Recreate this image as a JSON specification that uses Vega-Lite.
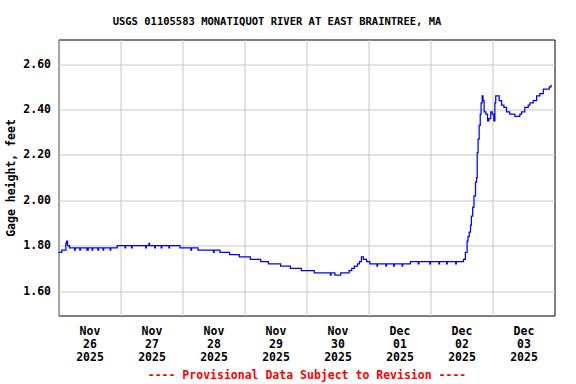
{
  "$schema": "https://vega.github.io/schema/vega-lite/v6.json",
  "width": 496,
  "height": 276,
  "autosize": "none",
  "padding": {"left": 58.5, "top": 39.5, "right": 21.5, "bottom": 68.5},
  "background": "white",
  "config": {
    "view": {"stroke": "black", "strokeWidth": 1},
    "font": "DejaVu Sans Mono"
  },
  "title": {
    "text": "USGS 01105583 MONATIQUOT RIVER AT EAST BRAINTREE, MA",
    "font": "DejaVu Sans Mono",
    "fontSize": 10.5,
    "fontWeight": "bold",
    "color": "black",
    "anchor": "middle",
    "frame": "group",
    "dx": -29.5,
    "offset": 12
  },
  "data": {
    "values": [
      {"t": "2025-11-26T00:00", "v": 1.77},
      {"t": "2025-11-26T00:50", "v": 1.77},
      {"t": "2025-11-26T01:15", "v": 1.78},
      {"t": "2025-11-26T02:30", "v": 1.78},
      {"t": "2025-11-26T02:50", "v": 1.81},
      {"t": "2025-11-26T03:10", "v": 1.82},
      {"t": "2025-11-26T03:30", "v": 1.80},
      {"t": "2025-11-26T04:15", "v": 1.79},
      {"t": "2025-11-26T06:00", "v": 1.79},
      {"t": "2025-11-26T06:15", "v": 1.78},
      {"t": "2025-11-26T06:30", "v": 1.79},
      {"t": "2025-11-26T08:00", "v": 1.79},
      {"t": "2025-11-26T08:15", "v": 1.78},
      {"t": "2025-11-26T08:30", "v": 1.79},
      {"t": "2025-11-26T10:45", "v": 1.79},
      {"t": "2025-11-26T11:00", "v": 1.78},
      {"t": "2025-11-26T11:30", "v": 1.79},
      {"t": "2025-11-26T12:45", "v": 1.79},
      {"t": "2025-11-26T13:00", "v": 1.78},
      {"t": "2025-11-26T13:15", "v": 1.79},
      {"t": "2025-11-26T15:00", "v": 1.79},
      {"t": "2025-11-26T15:15", "v": 1.78},
      {"t": "2025-11-26T15:30", "v": 1.79},
      {"t": "2025-11-26T17:00", "v": 1.79},
      {"t": "2025-11-26T17:15", "v": 1.78},
      {"t": "2025-11-26T17:30", "v": 1.79},
      {"t": "2025-11-26T19:45", "v": 1.79},
      {"t": "2025-11-26T20:00", "v": 1.78},
      {"t": "2025-11-26T20:15", "v": 1.79},
      {"t": "2025-11-26T22:30", "v": 1.79},
      {"t": "2025-11-26T22:45", "v": 1.80},
      {"t": "2025-11-27T01:30", "v": 1.80},
      {"t": "2025-11-27T01:45", "v": 1.79},
      {"t": "2025-11-27T02:00", "v": 1.80},
      {"t": "2025-11-27T04:00", "v": 1.80},
      {"t": "2025-11-27T04:15", "v": 1.79},
      {"t": "2025-11-27T04:30", "v": 1.80},
      {"t": "2025-11-27T09:30", "v": 1.80},
      {"t": "2025-11-27T09:45", "v": 1.79},
      {"t": "2025-11-27T10:00", "v": 1.80},
      {"t": "2025-11-27T11:00", "v": 1.81},
      {"t": "2025-11-27T11:15", "v": 1.80},
      {"t": "2025-11-27T13:00", "v": 1.80},
      {"t": "2025-11-27T13:15", "v": 1.79},
      {"t": "2025-11-27T13:30", "v": 1.80},
      {"t": "2025-11-27T15:30", "v": 1.80},
      {"t": "2025-11-27T15:45", "v": 1.79},
      {"t": "2025-11-27T16:00", "v": 1.80},
      {"t": "2025-11-27T18:30", "v": 1.80},
      {"t": "2025-11-27T18:45", "v": 1.79},
      {"t": "2025-11-27T19:00", "v": 1.80},
      {"t": "2025-11-27T22:45", "v": 1.80},
      {"t": "2025-11-27T23:00", "v": 1.79},
      {"t": "2025-11-28T03:00", "v": 1.79},
      {"t": "2025-11-28T03:15", "v": 1.78},
      {"t": "2025-11-28T03:30", "v": 1.79},
      {"t": "2025-11-28T05:45", "v": 1.79},
      {"t": "2025-11-28T06:00", "v": 1.78},
      {"t": "2025-11-28T11:45", "v": 1.78},
      {"t": "2025-11-28T12:00", "v": 1.77},
      {"t": "2025-11-28T12:15", "v": 1.78},
      {"t": "2025-11-28T14:30", "v": 1.77},
      {"t": "2025-11-28T18:15", "v": 1.76},
      {"t": "2025-11-28T22:00", "v": 1.75},
      {"t": "2025-11-29T02:00", "v": 1.75},
      {"t": "2025-11-29T02:15", "v": 1.74},
      {"t": "2025-11-29T06:00", "v": 1.74},
      {"t": "2025-11-29T06:15", "v": 1.73},
      {"t": "2025-11-29T09:00", "v": 1.73},
      {"t": "2025-11-29T09:15", "v": 1.72},
      {"t": "2025-11-29T13:45", "v": 1.72},
      {"t": "2025-11-29T14:00", "v": 1.71},
      {"t": "2025-11-29T17:30", "v": 1.71},
      {"t": "2025-11-29T17:45", "v": 1.70},
      {"t": "2025-11-29T21:30", "v": 1.70},
      {"t": "2025-11-29T22:00", "v": 1.69},
      {"t": "2025-11-30T01:15", "v": 1.69},
      {"t": "2025-11-30T03:00", "v": 1.68},
      {"t": "2025-11-30T09:00", "v": 1.68},
      {"t": "2025-11-30T09:15", "v": 1.67},
      {"t": "2025-11-30T09:30", "v": 1.68},
      {"t": "2025-11-30T11:00", "v": 1.67},
      {"t": "2025-11-30T13:00", "v": 1.67},
      {"t": "2025-11-30T13:15", "v": 1.68},
      {"t": "2025-11-30T15:30", "v": 1.68},
      {"t": "2025-11-30T16:30", "v": 1.69},
      {"t": "2025-11-30T17:30", "v": 1.70},
      {"t": "2025-11-30T18:30", "v": 1.71},
      {"t": "2025-11-30T19:45", "v": 1.72},
      {"t": "2025-11-30T20:30", "v": 1.73},
      {"t": "2025-11-30T21:15", "v": 1.75},
      {"t": "2025-11-30T22:00", "v": 1.74},
      {"t": "2025-11-30T23:15", "v": 1.73},
      {"t": "2025-12-01T00:30", "v": 1.72},
      {"t": "2025-12-01T03:00", "v": 1.72},
      {"t": "2025-12-01T03:15", "v": 1.71},
      {"t": "2025-12-01T03:30", "v": 1.72},
      {"t": "2025-12-01T06:30", "v": 1.72},
      {"t": "2025-12-01T06:45", "v": 1.71},
      {"t": "2025-12-01T07:00", "v": 1.72},
      {"t": "2025-12-01T09:30", "v": 1.72},
      {"t": "2025-12-01T09:45", "v": 1.71},
      {"t": "2025-12-01T10:00", "v": 1.72},
      {"t": "2025-12-01T12:45", "v": 1.72},
      {"t": "2025-12-01T13:00", "v": 1.71},
      {"t": "2025-12-01T13:15", "v": 1.72},
      {"t": "2025-12-01T16:00", "v": 1.72},
      {"t": "2025-12-01T16:15", "v": 1.73},
      {"t": "2025-12-01T19:00", "v": 1.73},
      {"t": "2025-12-01T19:15", "v": 1.72},
      {"t": "2025-12-01T19:30", "v": 1.73},
      {"t": "2025-12-01T23:30", "v": 1.73},
      {"t": "2025-12-01T23:45", "v": 1.72},
      {"t": "2025-12-02T00:00", "v": 1.73},
      {"t": "2025-12-02T03:00", "v": 1.73},
      {"t": "2025-12-02T03:15", "v": 1.72},
      {"t": "2025-12-02T03:30", "v": 1.73},
      {"t": "2025-12-02T06:00", "v": 1.73},
      {"t": "2025-12-02T06:15", "v": 1.72},
      {"t": "2025-12-02T06:30", "v": 1.73},
      {"t": "2025-12-02T09:30", "v": 1.73},
      {"t": "2025-12-02T09:45", "v": 1.72},
      {"t": "2025-12-02T10:00", "v": 1.73},
      {"t": "2025-12-02T12:15", "v": 1.73},
      {"t": "2025-12-02T12:45", "v": 1.74},
      {"t": "2025-12-02T13:30", "v": 1.77},
      {"t": "2025-12-02T14:10", "v": 1.82},
      {"t": "2025-12-02T14:30", "v": 1.84},
      {"t": "2025-12-02T15:00", "v": 1.86},
      {"t": "2025-12-02T15:30", "v": 1.89},
      {"t": "2025-12-02T15:50", "v": 1.93},
      {"t": "2025-12-02T16:20", "v": 1.97},
      {"t": "2025-12-02T16:50", "v": 2.02},
      {"t": "2025-12-02T17:25", "v": 2.08},
      {"t": "2025-12-02T17:50", "v": 2.10},
      {"t": "2025-12-02T18:05", "v": 2.21},
      {"t": "2025-12-02T18:25", "v": 2.27},
      {"t": "2025-12-02T18:50", "v": 2.33},
      {"t": "2025-12-02T19:15", "v": 2.38},
      {"t": "2025-12-02T19:35", "v": 2.43},
      {"t": "2025-12-02T20:00", "v": 2.46},
      {"t": "2025-12-02T20:20", "v": 2.44},
      {"t": "2025-12-02T20:45", "v": 2.39},
      {"t": "2025-12-02T21:25", "v": 2.38},
      {"t": "2025-12-02T22:05", "v": 2.35},
      {"t": "2025-12-02T22:35", "v": 2.36},
      {"t": "2025-12-02T23:20", "v": 2.39},
      {"t": "2025-12-02T23:55", "v": 2.38},
      {"t": "2025-12-03T00:30", "v": 2.35},
      {"t": "2025-12-03T00:55", "v": 2.43},
      {"t": "2025-12-03T01:15", "v": 2.46},
      {"t": "2025-12-03T02:05", "v": 2.46},
      {"t": "2025-12-03T02:35", "v": 2.44},
      {"t": "2025-12-03T03:30", "v": 2.42},
      {"t": "2025-12-03T04:25", "v": 2.41},
      {"t": "2025-12-03T05:25", "v": 2.39},
      {"t": "2025-12-03T06:40", "v": 2.38},
      {"t": "2025-12-03T08:40", "v": 2.37},
      {"t": "2025-12-03T10:35", "v": 2.38},
      {"t": "2025-12-03T11:15", "v": 2.39},
      {"t": "2025-12-03T12:30", "v": 2.41},
      {"t": "2025-12-03T13:50", "v": 2.42},
      {"t": "2025-12-03T14:30", "v": 2.43},
      {"t": "2025-12-03T15:45", "v": 2.44},
      {"t": "2025-12-03T17:05", "v": 2.46},
      {"t": "2025-12-03T18:20", "v": 2.47},
      {"t": "2025-12-03T19:40", "v": 2.49},
      {"t": "2025-12-03T21:00", "v": 2.49},
      {"t": "2025-12-03T22:00", "v": 2.50},
      {"t": "2025-12-03T22:40", "v": 2.51}
    ]
  },
  "mark": {"type": "line", "color": "#0000ff", "strokeWidth": 1.25, "interpolate": "step-after"},
  "encoding": {
    "x": {
      "field": "t",
      "type": "temporal",
      "scale": {
        "domain": [
          {"year": 2025, "month": 11, "date": 26},
          {"year": 2025, "month": 12, "date": 4}
        ],
        "nice": false
      },
      "axis": {
        "values": [
          {"year": 2025, "month": 11, "date": 26},
          {"year": 2025, "month": 11, "date": 27},
          {"year": 2025, "month": 11, "date": 28},
          {"year": 2025, "month": 11, "date": 29},
          {"year": 2025, "month": 11, "date": 30},
          {"year": 2025, "month": 12, "date": 1},
          {"year": 2025, "month": 12, "date": 2},
          {"year": 2025, "month": 12, "date": 3}
        ],
        "labelExpr": "[timeFormat(datum.value, '%b'), timeFormat(datum.value, '%d'), timeFormat(datum.value, '%Y')]",
        "labelOffset": 31,
        "labelPadding": 10,
        "labelLineHeight": 13,
        "labelFont": "DejaVu Sans Mono",
        "labelFontSize": 11.5,
        "labelFontWeight": "bold",
        "labelColor": "black",
        "labelOverlap": false,
        "labelBound": false,
        "labelFlush": false,
        "ticks": false,
        "domain": false,
        "grid": true,
        "gridColor": "#c8c8c8",
        "gridOpacity": 1,
        "gridWidth": 1,
        "title": "---- Provisional Data Subject to Revision ----",
        "titleColor": "#ff0000",
        "titleFont": "DejaVu Sans Mono",
        "titleFontSize": 11.5,
        "titleFontWeight": "bold",
        "titlePadding": 6
      }
    },
    "y": {
      "field": "v",
      "type": "quantitative",
      "scale": {"domain": [1.492, 2.709], "nice": false, "zero": false},
      "axis": {
        "values": [1.6, 1.8, 2.0, 2.2, 2.4, 2.6],
        "format": ".2f",
        "labelPadding": 8,
        "labelFont": "DejaVu Sans Mono",
        "labelFontSize": 11.5,
        "labelFontWeight": "bold",
        "labelColor": "black",
        "ticks": false,
        "domain": false,
        "grid": true,
        "gridColor": "#c8c8c8",
        "gridOpacity": 1,
        "gridWidth": 1,
        "title": "Gage height, feet",
        "titleColor": "black",
        "titleFont": "DejaVu Sans Mono",
        "titleFontSize": 11.5,
        "titleFontWeight": "bold",
        "titlePadding": 6
      }
    }
  }
}
